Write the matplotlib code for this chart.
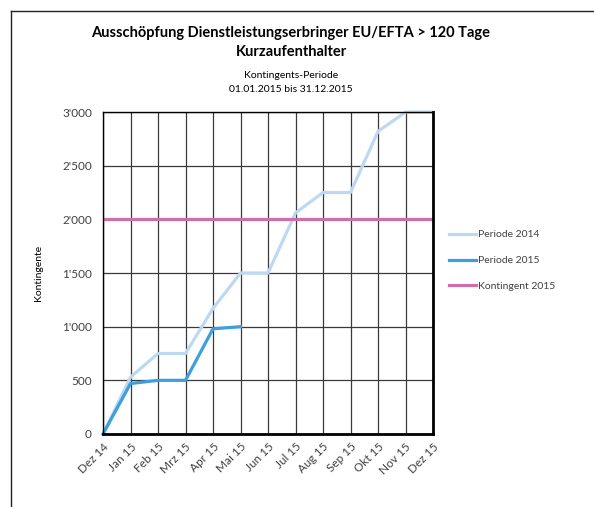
import matplotlib.pyplot as plt
from matplotlib.lines import Line2D
from matplotlib.ticker import FuncFormatter

plt.rcParams['font.family'] = ['Lato', 'DejaVu Sans']

# Data
months = ['Dez 14', 'Jan 15', 'Feb 15', 'Mrz 15', 'Apr 15', 'Mai 15', 'Jun 15',
          'Jul 15', 'Aug 15', 'Sep 15', 'Okt 15', 'Nov 15', 'Dez 15']
periode_2014 = [0, 530, 750, 750, 1170, 1500, 1500, 2060, 2250, 2250, 2820, 3000, 3000]
periode_2015 = [0, 470, 500, 500, 980, 1000]
kontingent_2015 = [2000] * len(months)

x = list(range(len(months)))

fig = plt.figure(figsize=(5.94, 5.07), dpi=100)
ax = fig.add_axes([0.1734, 0.144, 0.5556, 0.635])

ax.plot(x, periode_2014, color='#BDD9F2', lw=2.3, label='Periode 2014', clip_on=False)
ax.plot(x[:len(periode_2015)], periode_2015, color='#3D9FDD', lw=2.3, label='Periode 2015',
        clip_on=False)
ax.plot(x, kontingent_2015, color='#CF6FA9', lw=2.3, label='Kontingent 2015')

ax.set_xlim(0, len(months) - 1)
ax.set_ylim(0, 3000)
ax.set_xticks(x)
ax.set_xticklabels(months, rotation=45, ha='right', rotation_mode='anchor', fontsize=8.5, color='#404040')
ax.set_yticks(range(0, 3001, 500))
ax.yaxis.set_major_formatter(FuncFormatter(lambda v, p: f'{int(v):,}'.replace(',', "'")))
ax.tick_params(axis='y', labelsize=8.5, labelcolor='#404040', length=0, pad=8)
ax.tick_params(axis='x', length=0, pad=5)
ax.grid(True, color='#3a3a3a', lw=0.9)
ax.set_axisbelow(True)
for side in ['top', 'left']:
    ax.spines[side].set_linewidth(1.0)
for side in ['bottom', 'right']:
    ax.spines[side].set_linewidth(2.0)
ax.set_ylabel('Kontingente', fontsize=7.5, labelpad=14)

fig.text(0.49, 0.935, 'Ausschöpfung Dienstleistungserbringer EU/EFTA > 120 Tage',
         ha='center', va='center', fontsize=10.5, fontweight='bold')
fig.text(0.49, 0.897, 'Kurzaufenthalter', ha='center', va='center', fontsize=10.5, fontweight='bold')
fig.text(0.49, 0.852, 'Kontingents-Periode', ha='center', va='center', fontsize=7.5)
fig.text(0.49, 0.823, '01.01.2015 bis 31.12.2015', ha='center', va='center', fontsize=7.5)

fig.legend(loc='upper left', bbox_to_anchor=(0.74, 0.565), frameon=False, fontsize=7.5,
           handlelength=2.6, handletextpad=0.15, labelspacing=1.6, labelcolor='#404040')

# outer frame
fig.add_artist(Line2D([0.0185, 1.0], [0.978, 0.978], color='#222222', lw=1.0))
fig.add_artist(Line2D([0.0185, 0.0185], [0.0, 0.978], color='#222222', lw=1.0))

fig.savefig('out.png', dpi=100)
